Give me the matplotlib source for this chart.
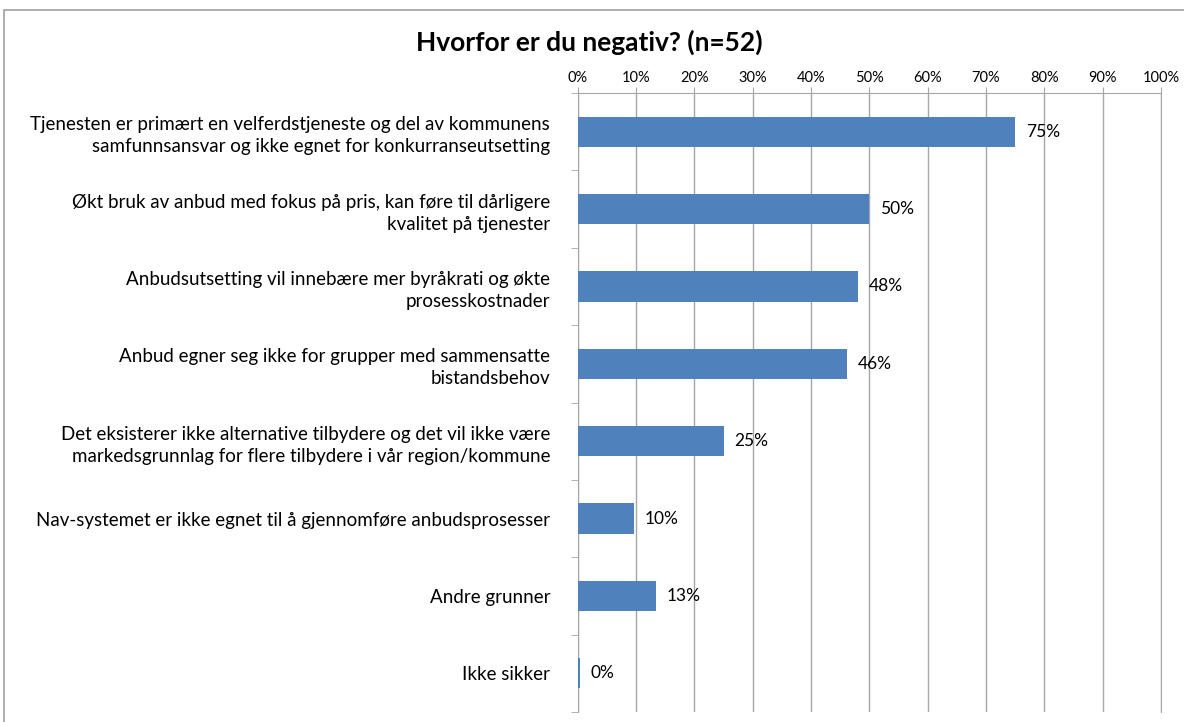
import matplotlib.pyplot as plt
import matplotlib.patches as mpatches
import numpy as np

plt.rcParams['font.family'] = ['Lato', 'DejaVu Sans']

categories = [
    "Tjenesten er primært en velferdstjeneste og del av kommunens\nsamfunnsansvar og ikke egnet for konkurranseutsetting",
    "Økt bruk av anbud med fokus på pris, kan føre til dårligere\nkvalitet på tjenester",
    "Anbudsutsetting vil innebære mer byråkrati og økte\nprosesskostnader",
    "Anbud egner seg ikke for grupper med sammensatte\nbistandsbehov",
    "Det eksisterer ikke alternative tilbydere og det vil ikke være\nmarkedsgrunnlag for flere tilbydere i vår region/kommune",
    "Nav-systemet er ikke egnet til å gjennomføre anbudsprosesser",
    "Andre grunner",
    "Ikke sikker",
]
values = [75.0, 50.0, 48.1, 46.2, 25.0, 9.6, 13.4, 0.3]
xticks = list(range(0, 101, 10))

BLUE = "#4F81BD"
GRID = "#A6A6A6"

fig = plt.figure(figsize=(11.84, 7.22), dpi=100)
ax = fig.add_axes([0.488, 0.014, 0.4925, 0.857])

y = np.arange(len(categories))
ax.barh(y, values, height=0.39, color=BLUE, zorder=3)
for yi, v in zip(y, values):
    ax.text(v + 1.8, yi, f"{v:.0f}%", va="center", ha="left", fontsize=12.5, zorder=4)

ax.set_xlim(0, 100)
ax.set_ylim(len(categories) - 0.5, -0.5)
ax.xaxis.tick_top()
ax.set_xticks(xticks)
ax.set_xticklabels([f"{t}%" for t in xticks], fontsize=10.5)
ax.tick_params(axis="x", length=4, color=GRID, pad=2)
ax.grid(axis="x", color=GRID, lw=1, zorder=0)

ax.set_yticks(y)
ax.set_yticklabels(categories, fontsize=13.5, ha="right", linespacing=1.35)
ax.tick_params(axis="y", length=0, pad=20)
ax.set_yticks(np.arange(-0.5, len(categories), 1), minor=True)
ax.tick_params(axis="y", which="minor", length=5, color=GRID, direction="out")

ax.spines["bottom"].set_visible(False)
for s in ["top", "left", "right"]:
    ax.spines[s].set_color(GRID)

fig.text(0.498, 0.942, "Hvorfor er du negativ? (n=52)", ha="center", va="center",
         fontsize=19, fontweight="bold")

# chart frame (top/left edges visible)
fig.add_artist(mpatches.Rectangle((4 / 1184, -0.01), 1.01, 1 - 10 / 722 + 0.01,
                                  transform=fig.transFigure, fill=False,
                                  edgecolor="#A0A0A0", lw=1.2))

fig.savefig("out.png", dpi=100)
